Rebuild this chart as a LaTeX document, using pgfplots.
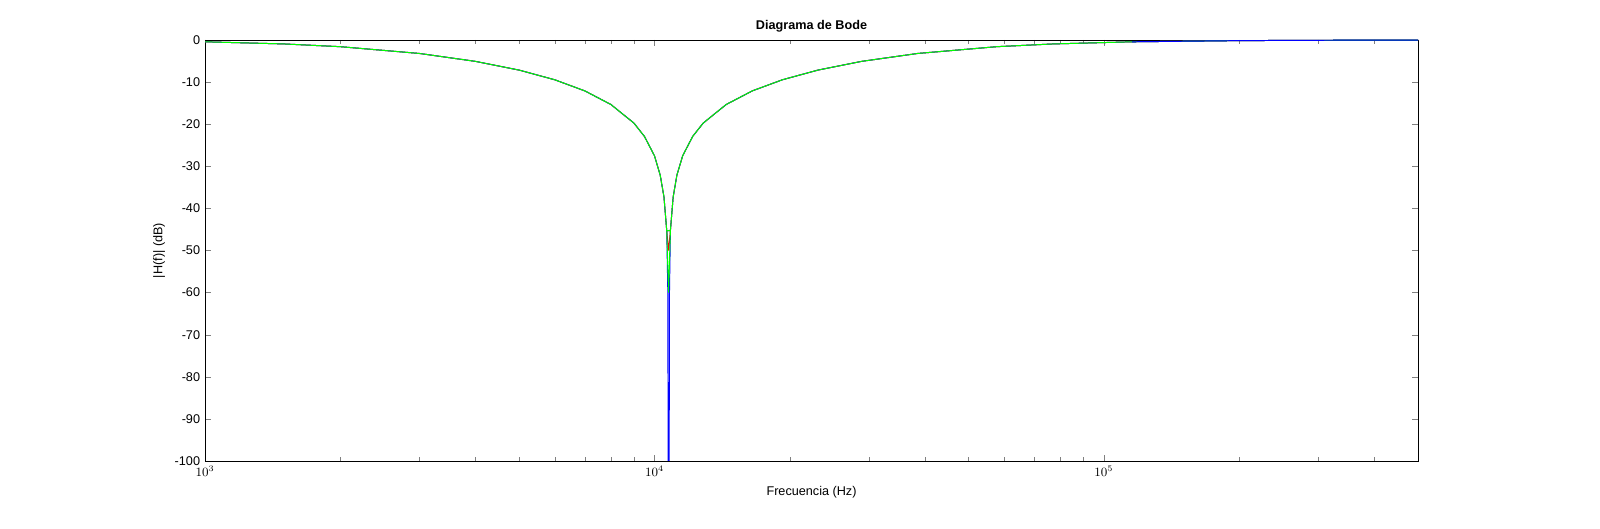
\documentclass[border=0pt]{standalone}
\usepackage{pgfplots}
\pgfplotsset{compat=1.18}
\usepackage{fontspec}
\setmainfont{Liberation Sans}
\pgfplotstableread{
f db
1000 -0.43
1500 -0.94
2000 -1.59
3000 -3.20
4000 -5.08
5000 -7.15
6000 -9.45
7000 -12.09
8000 -15.32
9000 -19.73
9500 -22.9
10000 -27.5
10300 -32.1
10500 -37.3
10650 -45.3
10851 -45.3
11006 -37.3
11219 -32.1
11556 -27.5
12164 -22.9
12840 -19.73
14445 -15.32
16509 -12.09
19260 -9.45
23112 -7.15
28890 -5.08
38520 -3.20
57780 -1.59
77040 -0.94
115560 -0.43
200000 -0.15
300000 -0.066
500000 -0.024
}\base
\definecolor{mgreen}{RGB}{0,255,0}
\begin{document}
\begin{tikzpicture}[x=1cm,y=1cm]
\begin{axis}[at={(5.125cm,1.7cm)},anchor=south west,
 scale only axis,width=30.325cm,height=10.525cm,
 xmode=log,xmin=1000,xmax=500000,ymin=-100,ymax=0,
 ytick={-100,-90,...,0},
 tick align=inside,tick pos=both,
 font=\small,
 /pgf/number format/assume math mode=true,
 title={\textbf{Diagrama de Bode}},
 xlabel={Frecuencia (Hz)},ylabel={|H(f)| (dB)},
 title style={yshift=-4pt},
 clip=true]
\addplot[red,line width=0.7pt] table[x=f,y=db]{\base};
\addplot[red,line width=0.7pt] coordinates {(10650,-45.3)(10750,-50)(10851,-45.3)};
\addplot[blue,line width=0.7pt] table[x=f,y=db]{\base};
\addplot[blue,line width=0.7pt] coordinates {(10650,-45.3)(10710,-60)(10740,-130)(10770,-130)(10800,-60)(10851,-45.3)};
\addplot[mgreen,line width=0.7pt] table[x=f,y=db]{\base};
\addplot[mgreen,line width=0.7pt] coordinates {(10650,-45.3)(10750,-60)(10851,-45.3)};
\addplot[blue,line width=0.7pt] table[x=f,y=db,restrict x to domain=11.5:13.2]{\base};
\end{axis}
\pgfresetboundingbox
\useasboundingbox (0,0) rectangle (40,13.225);
\end{tikzpicture}
\end{document}
